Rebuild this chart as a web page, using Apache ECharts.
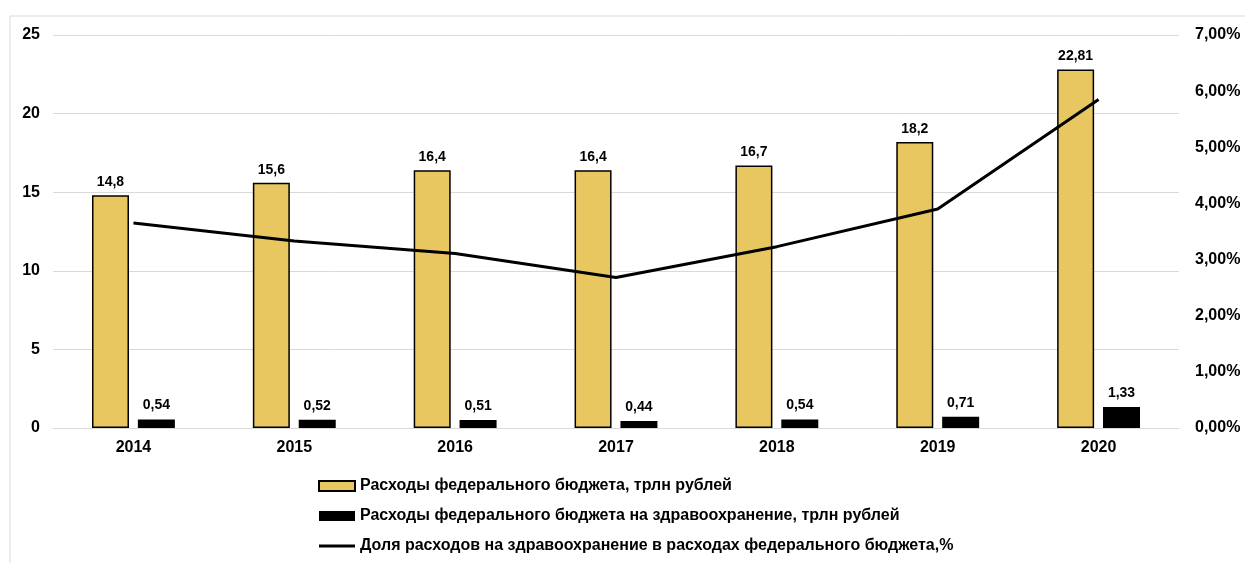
<!DOCTYPE html>
<html lang="ru">
<head>
  <meta charset="UTF-8">
  <title>Расходы федерального бюджета</title>
  <script src="https://cdn.jsdelivr.net/npm/echarts@6/dist/echarts.min.js"></script>
  <style>
    body { margin: 0; padding: 0; background: #fff; }
    #chart { width: 1245px; height: 563px; }
  </style>
</head>
<body>
  <div id="chart"></div>
  <script>
    // данные
    var years = ['2014', '2015', '2016', '2017', '2018', '2019', '2020'];
    var budgetTotal = [14.8, 15.6, 16.4, 16.4, 16.7, 18.2, 22.81];
    var budgetHealth = [0.54, 0.52, 0.51, 0.44, 0.54, 0.71, 1.33];
    var healthShare = [3.65, 3.33, 3.11, 2.68, 3.23, 3.90, 5.85];

    var nameTotal = 'Расходы федерального бюджета, трлн рублей';
    var nameHealth = 'Расходы федерального бюджета на здравоохранение, трлн рублей';
    var nameShare = 'Доля расходов на здравоохранение в расходах федерального бюджета,%';

    var font = 'Liberation Sans, Arial, sans-serif';

    function comma(v) {
      return String(v).replace('.', ',');
    }

    var myChart = echarts.init(document.getElementById('chart'));

    var option = {
      animation: false,
      textStyle: { fontFamily: font },
      graphic: [{
        type: 'rect',
        shape: { x: 10, y: 16, width: 1400, height: 700 },
        style: { fill: 'none', stroke: '#d9d9d9', lineWidth: 1 },
        silent: true
      }],
      grid: { left: 53, right: 66, top: 35, bottom: 135 },
      legend: {
        orient: 'vertical',
        left: 313,
        top: 473,
        itemGap: 14,
        itemWidth: 36,
        itemHeight: 10,
        itemTextGap: 3,
        textStyle: { fontFamily: font, fontWeight: 'bold', fontSize: 16, color: '#000' },
        data: [
          { name: nameTotal, icon: 'rect' },
          { name: nameHealth, icon: 'rect' },
          { name: nameShare, icon: 'path://M0,0 L36,0 L36,3 L0,3 Z' }
        ]
      },
      xAxis: {
        type: 'category',
        data: years,
        axisTick: { show: false },
        axisLine: { lineStyle: { color: '#d9d9d9' } },
        axisLabel: { fontFamily: font, fontWeight: 'bold', fontSize: 16, color: '#000', margin: 12 }
      },
      yAxis: [
        {
          type: 'value',
          min: 0,
          max: 25,
          interval: 5,
          axisLabel: { fontFamily: font, fontWeight: 'bold', fontSize: 16, color: '#000', margin: 13 },
          splitLine: { lineStyle: { color: '#d9d9d9' } }
        },
        {
          type: 'value',
          min: 0,
          max: 7,
          interval: 1,
          splitLine: { show: false },
          axisLabel: {
            fontFamily: font, fontWeight: 'bold', fontSize: 16, color: '#000', margin: 16,
            formatter: function (v) { return v.toFixed(2).replace('.', ',') + '%'; }
          }
        }
      ],
      series: [
        {
          name: nameTotal,
          type: 'bar',
          data: budgetTotal,
          barWidth: 37,
          barGap: '24%',
          itemStyle: { color: '#e8c660', borderColor: '#000', borderWidth: 1.5 },
          label: {
            show: true, position: 'top', distance: 6,
            fontFamily: font, fontWeight: 'bold', fontSize: 14, color: '#000',
            formatter: function (p) { return comma(p.value); }
          }
        },
        {
          name: nameHealth,
          type: 'bar',
          data: budgetHealth,
          barWidth: 37,
          itemStyle: { color: '#000' },
          label: {
            show: true, position: 'top', distance: 7,
            fontFamily: font, fontWeight: 'bold', fontSize: 14, color: '#000',
            formatter: function (p) { return comma(p.value); }
          }
        },
        {
          name: nameShare,
          type: 'line',
          yAxisIndex: 1,
          data: healthShare,
          symbol: 'none',
          lineStyle: { color: '#000', width: 3 },
          itemStyle: { color: '#000' }
        }
      ]
    };

    myChart.setOption(option);
  </script>
</body>
</html>
